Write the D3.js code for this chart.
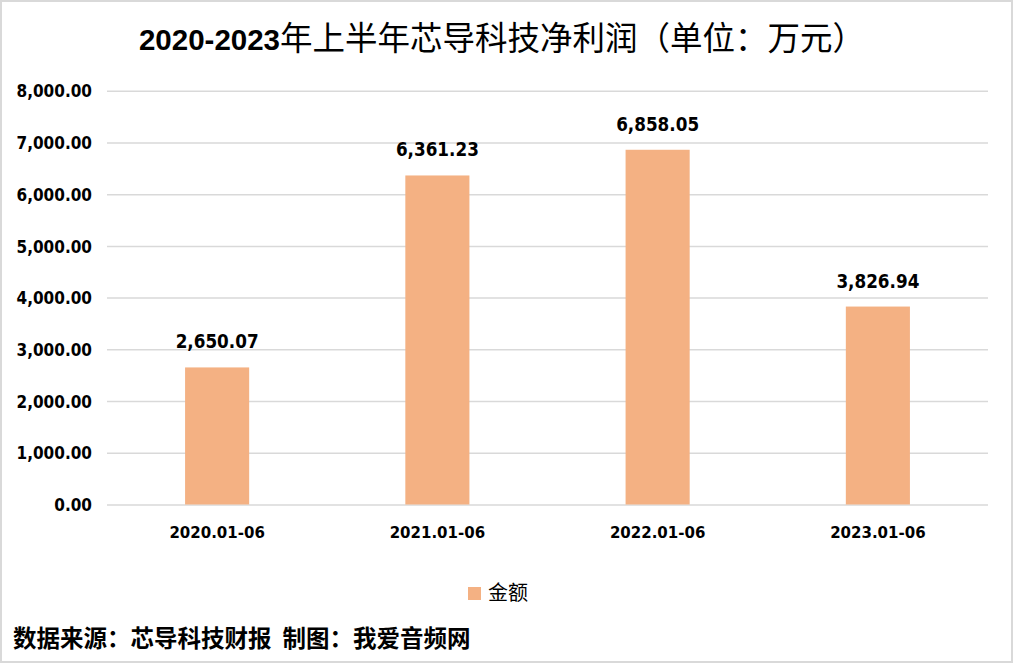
<!DOCTYPE html>
<html>
<head>
<meta charset="utf-8">
<script src="https://cdn.jsdelivr.net/npm/d3@7"></script>
<style>
  html, body { margin: 0; padding: 0; background: #fff; }
  svg { display: block; }
</style>
</head>
<body>
<div id="chart"></div>
<script>
// data
var categories = ["2020.01-06", "2021.01-06", "2022.01-06", "2023.01-06"];
var values = [2650.07, 6361.23, 6858.05, 3826.94];
var yTicks = [0, 1000, 2000, 3000, 4000, 5000, 6000, 7000, 8000];
var seriesName = "金额";
var titleNum = "2020-2023";
var titleText = "年上半年芯导科技净利润（单位：万元）";
var footerParts = ["数据来源：芯导科技财报", "制图：我爱音频网"];

var width = 1015, height = 664;
var numFont = "'DejaVu Sans Condensed', 'DejaVu Sans', sans-serif";
var cjkFont = "'Noto Sans CJK SC', sans-serif";

var svg = d3.select("#chart").append("svg")
    .attr("width", width)
    .attr("height", height);

// outer frame
svg.append("rect")
    .attr("x", 1).attr("y", 1)
    .attr("width", 1011).attr("height", 661)
    .attr("fill", "#fff")
    .attr("stroke", "#d9d9d9")
    .attr("stroke-width", 2);

// scales
var x = d3.scaleBand()
    .domain(categories)
    .range([107, 988])
    .paddingInner(0.709)
    .paddingOuter(0.3545);

var y = d3.scaleLinear()
    .domain([0, 8000])
    .range([504.5, 90.7]);

var fmt = d3.format(",.2f");

// gridlines + y labels
var yAxis = d3.axisLeft(y)
    .tickValues(yTicks)
    .tickSize(-(988 - 107))
    .tickPadding(15)
    .tickFormat(fmt);

var gy = svg.append("g")
    .attr("transform", "translate(107,0)")
    .call(yAxis);
gy.select(".domain").remove();
gy.selectAll(".tick line")
    .attr("stroke", "#d9d9d9")
    .attr("stroke-width", 1.5);
gy.selectAll(".tick text")
    .attr("fill", "#000")
    .attr("font-family", numFont)
    .attr("font-weight", "bold")
    .attr("font-size", 17)
    .attr("dy", "0.36em");

// bars
svg.append("g").selectAll("rect")
    .data(values)
    .enter().append("rect")
      .attr("x", function(d, i) { return x(categories[i]); })
      .attr("y", function(d) { return y(d); })
      .attr("width", x.bandwidth())
      .attr("height", function(d) { return y(0) - y(d); })
      .attr("fill", "#f4b183");

// value labels
svg.append("g").selectAll("text")
    .data(values)
    .enter().append("text")
      .attr("x", function(d, i) { return x(categories[i]) + x.bandwidth() / 2; })
      .attr("y", function(d) { return y(d) - 19; })
      .attr("text-anchor", "middle")
      .attr("font-family", numFont)
      .attr("font-weight", "bold")
      .attr("font-size", 18.7)
      .attr("fill", "#000")
      .text(function(d) { return fmt(d); });

// x axis labels
var xAxis = d3.axisBottom(x).tickSize(0).tickPadding(0);
var gx = svg.append("g")
    .attr("transform", "translate(0,538)")
    .call(xAxis);
gx.select(".domain").remove();
gx.selectAll(".tick text")
    .attr("fill", "#000")
    .attr("font-family", numFont)
    .attr("font-weight", "bold")
    .attr("font-size", 16.7)
    .attr("dy", 0);

// title
var title = svg.append("text")
    .attr("x", 502)
    .attr("y", 50)
    .attr("text-anchor", "middle")
    .attr("fill", "#000");
title.append("tspan")
    .attr("font-family", "'Liberation Sans', Arial, sans-serif")
    .attr("font-weight", "bold")
    .attr("font-size", 29.5)
    .text(titleNum);
title.append("tspan")
    .attr("font-family", cjkFont)
    .attr("font-size", 32.5)
    .text(titleText);

// legend
var legend = svg.append("g");
legend.append("rect")
    .attr("x", 468).attr("y", 587)
    .attr("width", 13).attr("height", 13)
    .attr("fill", "#f4b183");
legend.append("text")
    .attr("x", 488)
    .attr("y", 600)
    .attr("font-family", cjkFont)
    .attr("font-size", 20)
    .attr("fill", "#000")
    .text(seriesName);

// footer
var footer = svg.append("text")
    .attr("x", 13)
    .attr("y", 647)
    .attr("font-family", cjkFont)
    .attr("font-weight", "bold")
    .attr("font-size", 23.5)
    .attr("fill", "#000");
footer.append("tspan").text(footerParts[0]);
footer.append("tspan").attr("dx", 11).text(footerParts[1]);
</script>
</body>
</html>
